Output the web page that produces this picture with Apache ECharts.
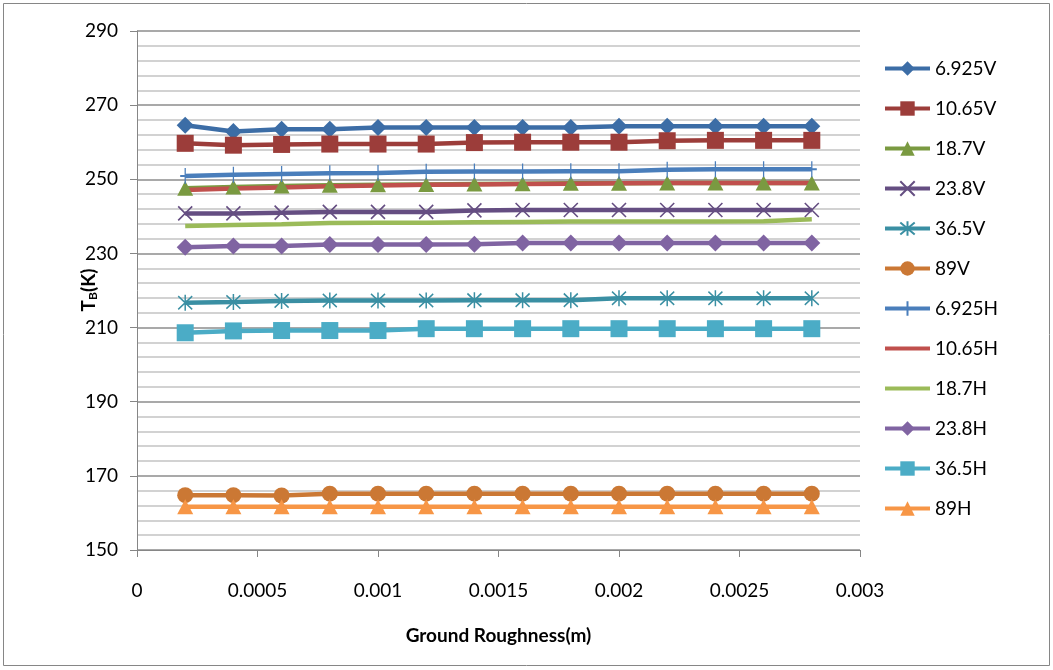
<!DOCTYPE html>
<html>
<head>
<meta charset="utf-8">
<script src="https://cdn.jsdelivr.net/npm/echarts@6/dist/echarts.min.js"></script>
<style>
  html, body { margin: 0; padding: 0; background: #fff; }
  #chart { width: 1053px; height: 670px; }
</style>
</head>
<body>
<div id="chart"></div>
<script>
// Ground roughness (m) sample points
const roughness = [0.0002, 0.0004, 0.0006, 0.0008, 0.0010, 0.0012, 0.0014,
                   0.0016, 0.0018, 0.0020, 0.0022, 0.0024, 0.0026, 0.0028];

// Brightness temperature (K) per channel
const tb6925V = [264.6, 262.9, 263.5, 263.5, 264.0, 264.0, 264.0, 264.0, 264.0, 264.3, 264.3, 264.3, 264.3, 264.3];
const tb1065V = [259.7, 259.2, 259.4, 259.5, 259.5, 259.5, 259.9, 260.0, 260.0, 260.0, 260.4, 260.5, 260.5, 260.5];
const tb187V  = [247.6, 247.9, 248.2, 248.4, 248.5, 248.6, 248.7, 248.8, 248.9, 248.9, 249.0, 249.0, 249.0, 249.0];
const tb238V  = [240.8, 240.8, 241.0, 241.2, 241.2, 241.2, 241.6, 241.7, 241.7, 241.7, 241.7, 241.7, 241.7, 241.7];
const tb365V  = [216.7, 216.9, 217.2, 217.3, 217.3, 217.3, 217.4, 217.4, 217.4, 217.9, 217.9, 217.9, 217.9, 217.9];
const tb89V   = [164.8, 164.8, 164.7, 165.2, 165.2, 165.2, 165.2, 165.2, 165.2, 165.2, 165.2, 165.2, 165.2, 165.2];
const tb6925H = [250.9, 251.2, 251.4, 251.6, 251.7, 252.0, 252.1, 252.1, 252.2, 252.2, 252.6, 252.7, 252.7, 252.7];
const tb1065H = [247.1, 247.5, 247.8, 248.1, 248.3, 248.5, 248.6, 248.7, 248.8, 248.9, 249.0, 249.0, 249.0, 249.0];
const tb187H  = [237.4, 237.7, 237.9, 238.2, 238.3, 238.3, 238.4, 238.5, 238.6, 238.6, 238.6, 238.6, 238.7, 239.2];
const tb238H  = [231.7, 232.0, 232.0, 232.4, 232.4, 232.4, 232.5, 232.8, 232.8, 232.8, 232.8, 232.8, 232.8, 232.8];
const tb365H  = [208.6, 209.1, 209.2, 209.2, 209.2, 209.7, 209.7, 209.7, 209.7, 209.7, 209.7, 209.7, 209.7, 209.7];
const tb89H   = [161.7, 161.7, 161.7, 161.7, 161.7, 161.7, 161.7, 161.7, 161.7, 161.7, 161.7, 161.7, 161.7, 161.7];

const channelNames = ['6.925V', '10.65V', '18.7V', '23.8V', '36.5V', '89V',
                      '6.925H', '10.65H', '18.7H', '23.8H', '36.5H', '89H'];
const channelValues = [tb6925V, tb1065V, tb187V, tb238V, tb365V, tb89V,
                       tb6925H, tb1065H, tb187H, tb238H, tb365H, tb89H];

// Axis ticks
const xTicks = { min: 0, max: 0.003, step: 0.0005 };
const yTicks = { min: 150, max: 290, step: 20 };

const FONT = 'Lato, "Open Sans", sans-serif';
const X_MARK = 'path://M0,0L10,10M10,0L0,10';
const STAR_MARK = 'path://M0,1L10,11M10,1L0,11M5,0L5,12';
const PLUS_MARK = 'path://M0,8L10,8M5,0L5,16';
const BAR_ICON = 'path://M0,0L45,0L45,4L0,4Z';

const styles = [
  { color: '#3C6DA6', symbol: 'diamond',  size: [17, 17] },
  { color: '#9C3D3A', symbol: 'rect',     size: [17, 17] },
  { color: '#7A9A41', symbol: 'triangle', size: [16, 15] },
  { color: '#654E82', symbol: X_MARK,     size: [14, 14], stroke: true },
  { color: '#3A8FA3', symbol: STAR_MARK,  size: [14, 16], stroke: true },
  { color: '#CB7834', symbol: 'circle',   size: [16, 16] },
  { color: '#4A7EBB', symbol: PLUS_MARK,  size: [10, 16], stroke: true },
  { color: '#C0504D', symbol: 'none',     size: 0 },
  { color: '#9BBB59', symbol: 'none',     size: 0 },
  { color: '#8064A2', symbol: 'diamond',  size: [17, 17] },
  { color: '#4BACC6', symbol: 'rect',     size: [17, 17] },
  { color: '#F79646', symbol: 'triangle', size: [16, 15] }
];

const series = channelNames.map((name, i) => {
  const st = styles[i];
  return {
    name: name,
    type: 'line',
    data: roughness.map((x, k) => [x, channelValues[i][k]]),
    symbol: st.symbol,
    symbolSize: st.size,
    showSymbol: st.symbol !== 'none',
    lineStyle: { color: st.color, width: 4.5 },
    itemStyle: st.stroke
      ? { color: st.color, borderColor: st.color, borderWidth: 1.6 }
      : { color: st.color, borderWidth: 0 },
    emphasis: { disabled: true },
    animation: false
  };
});

const legendData = channelNames.map((name, i) =>
  styles[i].symbol === 'none'
    ? { name: name, icon: BAR_ICON, itemStyle: { color: styles[i].color } }
    : { name: name });

const chart = echarts.init(document.getElementById('chart'), null, { renderer: 'canvas' });
chart.setOption({
  backgroundColor: '#fff',
  textStyle: { fontFamily: FONT },
  animation: false,
  graphic: [{
    type: 'rect',
    shape: { x: 3.5, y: 3.5, width: 1046, height: 662 },
    style: { fill: 'none', stroke: '#868686', lineWidth: 1 },
    silent: true
  }, {
    // Y-axis title with subscript
    type: 'group',
    x: 89,
    y: 290,
    rotation: Math.PI / 2,
    silent: true,
    children: [{
      type: 'text',
      x: 0,
      y: 0,
      style: {
        text: '{t|T}{s|B}{t|(K)}',
        align: 'center',
        verticalAlign: 'middle',
        rich: {
          t: { fontFamily: FONT, fontSize: 19, fontWeight: 'bold', fill: '#000' },
          s: { fontFamily: FONT, fontSize: 12, fontWeight: 'bold', fill: '#000', verticalAlign: 'bottom', padding: [8, 0, 0, 0] }
        }
      }
    }]
  }],
  grid: { left: 137, right: 193, top: 31, bottom: 120, containLabel: false },
  legend: {
    orient: 'vertical',
    left: 883,
    top: 59,
    padding: 0,
    itemWidth: 45,
    itemHeight: 18,
    itemGap: 21,
    data: legendData,
    lineStyle: { width: 4 },
    textStyle: { fontFamily: FONT, fontSize: 19, lineHeight: 18, color: '#000' },
    selectedMode: false
  },
  xAxis: {
    type: 'value',
    min: xTicks.min,
    max: xTicks.max,
    interval: xTicks.step,
    name: 'Ground Roughness(m)',
    nameLocation: 'middle',
    nameGap: 76,
    nameMoveOverlap: false,
    nameTextStyle: { fontFamily: FONT, fontSize: 19, fontWeight: 'bold', color: '#000' },
    axisLine: { show: true, lineStyle: { color: '#868686', width: 1 } },
    axisTick: { show: true, inside: false, length: 7, lineStyle: { color: '#868686' } },
    axisLabel: {
      fontFamily: FONT, fontSize: 19, color: '#000', margin: 31,
      formatter: v => String(Number(v.toFixed(4)))
    },
    splitLine: { show: false }
  },
  yAxis: {
    type: 'value',
    min: yTicks.min,
    max: yTicks.max,
    interval: yTicks.step,
    axisLine: { show: true, lineStyle: { color: '#868686', width: 1 } },
    axisTick: { show: true, inside: false, length: 7, lineStyle: { color: '#868686' } },
    axisLabel: { fontFamily: FONT, fontSize: 19, color: '#000', margin: 19 },
    splitLine: { show: true, lineStyle: { color: '#8C8C8C', width: 1.5 } },
    minorTick: { show: false, splitNumber: 5 },
    minorSplitLine: { show: true, lineStyle: { color: '#C4C4C4', width: 1.5 } }
  },
  series: series
});
</script>
</body>
</html>
